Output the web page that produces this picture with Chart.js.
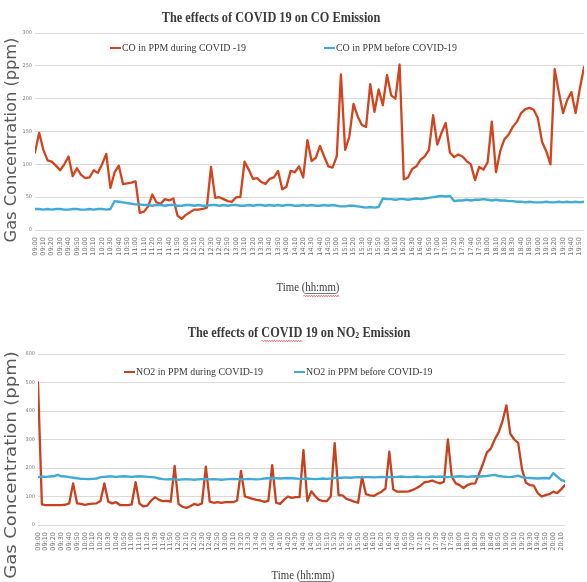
<!DOCTYPE html>
<html>
<head>
<meta charset="utf-8">
<script src="https://cdn.jsdelivr.net/npm/chart.js@4.4.1/dist/chart.umd.min.js"></script>
<style>
  html, body { margin: 0; padding: 0; background: #fff; }
  #wrap { position: relative; width: 587px; height: 582px; overflow: hidden; background: #fff; }
  canvas { position: absolute; left: 0; }
  #co { top: 0; }
  #no2 { top: 300px; }
</style>
</head>
<body>
<div id="wrap">
  <canvas id="co" width="587" height="300"></canvas>
  <canvas id="no2" width="587" height="282"></canvas>
</div>
<script>
// ---- CO emission (ppm), one reading every 5 minutes ----
const coTimes = ("09:00 09:10 09:20 09:30 09:40 09:50 10:00 10:10 10:20 10:30 10:40 10:50 " +
  "11:00 11:10 11:20 11:30 11:40 11:50 12:00 12:10 12:20 12:30 12:40 12:50 " +
  "13:00 13:10 13:20 13:30 13:40 13:50 14:00 14:10 14:20 14:30 14:40 14:50 " +
  "15:00 15:10 15:20 15:30 15:40 15:50 16:00 16:10 16:20 16:30 16:40 16:50 " +
  "17:00 17:10 17:20 17:30 17:40 17:50 18:00 18:10 18:20 18:30 18:40 18:50 " +
  "19:00 19:10 19:20 19:30 19:40 19:50").split(" ");

const coDuring = [
  118, 148, 122, 106, 104, 98, 91, 100, 112, 82,
  94, 84, 79, 80, 91, 87, 100, 116, 64, 88,
  98, 70, 71, 72, 74, 26, 28, 36, 54, 42,
  40, 47, 45, 48, 22, 17, 23, 27, 31, 31,
  32, 34, 96, 49, 50, 47, 44, 43, 50, 50,
  104, 92, 78, 79, 73, 70, 78, 80, 90, 62,
  66, 90, 88, 97, 80, 137, 105, 110, 128, 112,
  97, 95, 112, 237, 122, 142, 192, 173, 160, 157,
  222, 180, 214, 190, 236, 205, 200, 252, 77, 80,
  93, 97, 107, 112, 122, 175, 130, 148, 163, 118,
  111, 115, 112, 105, 100, 76, 96, 92, 103, 165,
  88, 120, 138, 145, 157, 165, 178, 184, 186, 183,
  170, 134, 120, 100, 245, 210, 178, 198, 210, 178,
  215, 248
];

const coBefore = [
  32, 32, 31, 32, 31, 32, 32, 31, 31, 32, 32, 31, 31, 32, 31, 32, 32, 31, 32,
  44, 43, 42, 41, 40, 39, 39,
  38, 38, 37, 38, 38, 37, 38, 38, 37, 37,
  38, 38, 37, 38, 37, 37, 38, 38, 37, 38,
  37, 38, 38, 37, 37, 38, 37, 38, 38, 37,
  38, 37, 38, 37, 38, 38, 37, 37, 38, 37,
  38, 37, 37, 38, 37, 38, 37, 36, 36, 37,
  37, 36,
  35, 34, 35, 34, 35,
  48, 47, 47, 46, 47, 47, 46, 47, 48, 47, 48, 49, 50, 51, 52, 51, 52,
  44, 45, 45, 46, 45, 46, 46, 47, 46, 45,
  46, 45, 45, 44, 44, 43, 43, 42, 43, 42,
  42, 42, 43, 42, 42, 43, 42, 43, 42, 43,
  42, 43
];

// ---- NO2 emission (ppm), one reading every 5 minutes ----
const no2Times = ("09:00 09:10 09:20 09:30 09:40 09:50 10:00 10:10 10:20 10:30 10:40 10:50 " +
  "11:00 11:10 11:20 11:30 11:40 11:50 12:00 12:10 12:20 12:30 12:40 12:50 " +
  "13:00 13:10 13:20 13:30 13:40 13:50 14:00 14:10 14:20 14:30 14:40 14:50 " +
  "15:00 15:10 15:20 15:30 15:40 15:50 16:00 16:10 16:20 16:30 16:40 16:50 " +
  "17:00 17:10 17:20 17:30 17:40 17:50 18:00 18:10 18:20 18:30 18:40 18:50 " +
  "19:00 19:10 19:20 19:30 19:40 19:50 20:00 20:10").split(" ");

const no2During = [
  500, 72, 70, 70, 70, 70, 70, 71, 76, 146,
  76, 74, 71, 73, 75, 76, 84, 146, 82, 76,
  80, 70, 70, 70, 72, 150, 75, 65, 68, 86,
  98, 88, 84, 85, 82, 207, 74, 64, 60, 66,
  74, 70, 76, 205, 82, 78, 80, 78, 80, 80,
  80, 86, 190, 100, 96, 92, 88, 86, 81, 85,
  210, 78, 74, 88, 100, 95, 98, 98, 263, 84,
  118, 102, 88, 84, 84, 100, 287, 105, 104, 92,
  87, 82, 78, 169, 108, 104, 102, 110, 117, 128,
  257, 125, 117, 117, 117, 118, 123, 130, 138, 150,
  152, 156, 150, 146, 152, 300, 170, 146, 140, 130,
  140, 145, 146, 180, 215, 255, 268, 300, 325, 365,
  420, 320, 300, 288, 195, 148, 140, 138, 112, 100,
  105, 108, 117, 112, 125, 140
];

const no2Before = [
  168, 170, 169, 170, 171,
  176,
  171, 170, 168, 166, 164,
  162, 162, 161, 162, 163,
  168, 169, 170, 170, 169, 170, 171, 170, 169, 170, 171, 170, 169, 168, 167,
  163, 161, 160, 161, 160, 159, 160, 161, 160, 159, 160, 161, 162, 160, 161,
  160, 159, 160, 161, 162, 161, 160, 161, 162, 161, 160, 161,
  163, 164, 165, 164, 163, 164, 165, 164, 163, 162, 162, 163, 162, 161, 162, 163, 162, 163,
  165, 166, 166, 167, 166, 167, 168, 167, 168, 168, 167, 168, 169, 168, 169, 168, 169, 170,
  169, 168, 169, 170, 169, 168, 169, 170, 169, 170, 169, 168, 169, 170, 171, 170, 169, 170, 171,
  170, 171, 172, 174, 176, 172, 170, 169, 168, 170, 173, 168, 166, 165, 164, 163, 164, 165,
  163, 182, 170, 158, 153
];

const BLUE = "#41abd5";
const SERIF = '"Liberation Serif", "Times New Roman", serif';
const TEXT_DARK = "#3a3a3a";

// Draws a row of text runs centred on (cx, cy), squeezed horizontally by sx.
function drawRuns(ctx, runs, cx, cy, sx, color) {
  let total = 0;
  runs.forEach(r => { ctx.font = r.font; r.w = ctx.measureText(r.text).width; total += r.w; });
  ctx.save();
  ctx.translate(cx, cy);
  ctx.scale(sx, 1);
  ctx.fillStyle = color;
  ctx.textBaseline = "middle";
  ctx.textAlign = "left";
  let x = -total / 2;
  runs.forEach(r => {
    ctx.font = r.font;
    ctx.fillText(r.text, x, r.dy || 0);
    r.x0 = cx + x * sx;
    r.x1 = cx + (x + r.w) * sx;
    x += r.w;
  });
  ctx.restore();
  return runs;
}

// Red spell-check style squiggle.
function squiggle(ctx, x1, x2, y) {
  ctx.save();
  ctx.strokeStyle = "rgba(214,60,70,0.85)";
  ctx.lineWidth = 0.8;
  ctx.beginPath();
  ctx.moveTo(x1, y);
  let up = true;
  for (let x = x1 + 1.2; x <= x2; x += 1.2) {
    ctx.lineTo(x, y + (up ? -0.8 : 0.8));
    up = !up;
  }
  ctx.stroke();
  ctx.restore();
}

// Title, in-plot legend and axis titles for one chart.
function decorations(cfg) {
  return {
    id: "decor_" + cfg.id,
    afterDraw(chart) {
      const ctx = chart.ctx;
      // title
      const titleRuns = cfg.title.map(t => ({
        text: t.text,
        font: (t.sub ? "bold 9px " : "bold 14px ") + SERIF,
        dy: t.sub ? 3 : 0
      }));
      drawRuns(ctx, titleRuns, cfg.titleX, cfg.titleY, 0.88, TEXT_DARK);
      if (cfg.titleSquiggle) {
        // underline the word COVID in the title
        const first = titleRuns[0];
        ctx.font = "bold 14px " + SERIF;
        const pre = ctx.measureText("The effects of ").width * 0.88;
        const w = ctx.measureText("COVID").width * 0.88;
        squiggle(ctx, first.x0 + pre, first.x0 + pre + w, cfg.titleY + 8);
      }

      // legend, drawn inside the plot area
      cfg.legend.forEach(item => {
        const ds = chart.data.datasets.find(d => d.label === item.label);
        ctx.save();
        ctx.strokeStyle = ds.borderColor;
        ctx.lineWidth = 2;
        ctx.beginPath();
        ctx.moveTo(item.lineX, cfg.legendY);
        ctx.lineTo(item.lineX + 11, cfg.legendY);
        ctx.stroke();
        ctx.translate(item.lineX + 12, cfg.legendY);
        ctx.scale(0.9, 1);
        ctx.font = "11px " + SERIF;
        ctx.fillStyle = TEXT_DARK;
        ctx.textBaseline = "middle";
        ctx.textAlign = "left";
        ctx.fillText(item.label, 0, 0);
        ctx.restore();
      });

      // x-axis title with underlined unit
      const xr = drawRuns(ctx, [
        { text: "Time (", font: "12px " + SERIF },
        { text: "hh:mm", font: "12px " + SERIF },
        { text: ")", font: "12px " + SERIF }
      ], cfg.xTitleX, cfg.xTitleY, 0.9, TEXT_DARK);
      ctx.save();
      ctx.strokeStyle = "#555";
      ctx.lineWidth = 0.8;
      ctx.beginPath();
      ctx.moveTo(xr[1].x0, cfg.xTitleY + 5.5);
      ctx.lineTo(xr[1].x1, cfg.xTitleY + 5.5);
      ctx.stroke();
      ctx.restore();
      squiggle(ctx, xr[1].x0 - 2, xr[2].x1, cfg.xTitleY + 8);

      // y-axis title, rotated
      ctx.save();
      ctx.translate(cfg.yTitleX, cfg.yTitleY);
      ctx.rotate(-Math.PI / 2);
      ctx.scale(cfg.yTitleStretch, 1);
      ctx.font = "15px 'DejaVu Sans', sans-serif";
      ctx.fillStyle = "#595959";
      ctx.textAlign = "center";
      ctx.textBaseline = "middle";
      ctx.fillText("Gas Concentration (ppm)", 0, 0);
      ctx.restore();
    }
  };
}

function emissionChart(canvasId, cfg) {
  const toXY = arr => arr.map((v, i) => ({ x: i, y: v }));
  const last = cfg.during.length - 1;
  return new Chart(document.getElementById(canvasId), {
    type: "line",
    data: {
      datasets: [
        {
          label: cfg.labels[1], data: toXY(cfg.before), borderColor: BLUE,
          borderWidth: 2.4, pointRadius: 0, tension: 0, order: 0,
          borderJoinStyle: "round", borderCapStyle: "round"
        },
        {
          label: cfg.labels[0], data: toXY(cfg.during), borderColor: cfg.red,
          borderWidth: 2.3, pointRadius: 0, tension: 0, order: 1,
          borderJoinStyle: "round", borderCapStyle: "round"
        }
      ]
    },
    options: {
      responsive: false,
      animation: false,
      events: [],
      layout: { padding: cfg.padding },
      plugins: { legend: { display: false }, title: { display: false }, tooltip: { enabled: false } },
      scales: {
        x: {
          type: "linear",
          min: 0,
          max: last,
          grid: { display: false, drawTicks: false },
          border: { display: false },
          ticks: {
            stepSize: 2,
            autoSkip: false,
            includeBounds: false,
            minRotation: 90,
            maxRotation: 90,
            padding: cfg.xTickPad,
            color: "#6f6f6f",
            font: { family: "'DejaVu Sans', sans-serif", size: 6.5 },
            callback: v => cfg.times[v / 2]
          },
          afterFit(s) { s.height = cfg.xHeight; s.paddingLeft = 0; s.paddingRight = 0; }
        },
        y: {
          min: 0,
          max: cfg.yMax,
          grid: { color: "#d9d9d9", lineWidth: 1, drawTicks: false },
          border: { display: false },
          ticks: {
            stepSize: cfg.yStep,
            padding: 3,
            color: "#7a7a7a",
            font: { family: "'DejaVu Sans', sans-serif", size: 5 }
          },
          afterFit(s) { s.width = cfg.yWidth; s.paddingTop = 0; s.paddingBottom = 0; }
        }
      }
    },
    plugins: [decorations(cfg)]
  });
}

emissionChart("co", {
  id: "co",
  times: coTimes, during: coDuring, before: coBefore,
  labels: ["CO in PPM during COVID -19", "CO in PPM before COVID-19"],
  red: "#d2441d",
  yMax: 300, yStep: 50,
  padding: { top: 33, right: 3, left: 0, bottom: 0 },
  yWidth: 35, xHeight: 70, xTickPad: 7,
  title: [{ text: "The effects of COVID 19 on CO Emission" }],
  titleX: 271, titleY: 18,
  legendY: 48,
  legend: [
    { label: "CO in PPM during COVID -19", lineX: 110 },
    { label: "CO in PPM before COVID-19", lineX: 324 }
  ],
  xTitleX: 308, xTitleY: 288,
  yTitleX: 12, yTitleY: 140, yTitleStretch: 1.08
});

emissionChart("no2", {
  id: "no2",
  times: no2Times, during: no2During, before: no2Before,
  labels: ["NO2 in PPM during COVID-19", "NO2 in PPM before COVID-19"],
  red: "#c9401c",
  yMax: 600, yStep: 100,
  padding: { top: 54, right: 22, left: 0, bottom: 0 },
  yWidth: 38, xHeight: 57, xTickPad: 7,
  title: [{ text: "The effects of COVID 19 on NO" }, { text: "2", sub: true }, { text: " Emission" }],
  titleSquiggle: true,
  titleX: 299, titleY: 33,
  legendY: 72,
  legend: [
    { label: "NO2 in PPM during COVID-19", lineX: 124 },
    { label: "NO2 in PPM before COVID-19", lineX: 294 }
  ],
  xTitleX: 303, xTitleY: 276,
  yTitleX: 12, yTitleY: 165, yTitleStretch: 1.2
});
</script>
</body>
</html>
